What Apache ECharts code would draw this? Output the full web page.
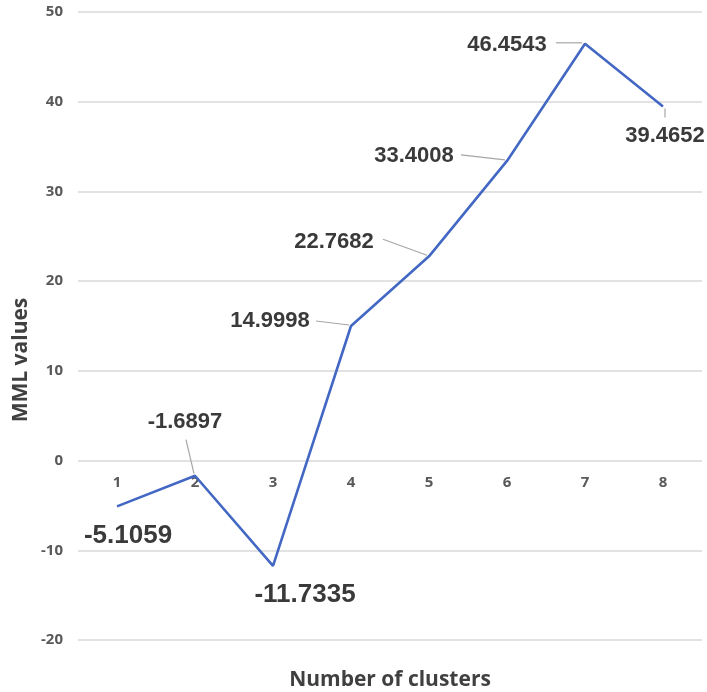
<!DOCTYPE html>
<html>
<head>
<meta charset="utf-8">
<script src="https://cdn.jsdelivr.net/npm/echarts@6/dist/echarts.min.js"></script>
<style>
  html, body { margin: 0; padding: 0; background: #fff; }
  #chart { width: 707px; height: 692px; }
</style>
</head>
<body>
<div id="chart"></div>
<script>
// Cluster counts and their MML scores
const clusters = ['1', '2', '3', '4', '5', '6', '7', '8'];
const mmlValues = [-5.1059, -1.6897, -11.7335, 14.9998, 22.7682, 33.4008, 46.4543, 39.4652];
const yTicks = { min: -20, max: 50, step: 10 };

// Where each value label sits relative to its point (px), and its size
const labelOffsets = [[11, 29], [-10, -54], [32, 29], [-81, -5], [-95, -14], [-93, -5], [-78, 1], [2, 29]];
const labelSizes = [26, 22, 26, 22, 22, 22, 22, 22];
// Leader line ends relative to the point (px); null = no leader
const leaders = [
  null,
  [[-9, -36], [-1, -2]],
  null,
  [[-35, -5], [-2, -1]],
  [[-46, -17], [-2, -1]],
  [[-46, -6], [-2, -1]],
  [[-29, -1], [-3, -1]],
  [[2, 2], [2, 11]]
];

const chart = echarts.init(document.getElementById('chart'), null, { renderer: 'canvas' });

const axisText = { color: '#595959', fontFamily: 'Open Sans', fontWeight: 'bold', fontSize: 15 };
const titleFont = 'bold 21px "Open Sans"';
const categoryLabelGap = 15; // gap between the zero line and the category labels

// Axis titles
const axisTitles = [
  {
    type: 'text',
    x: 390, y: 680,
    style: { text: 'Number of clusters', fill: '#404040', font: titleFont, align: 'center', verticalAlign: 'middle' }
  },
  {
    type: 'text',
    x: 21, y: 360,
    rotation: Math.PI / 2,
    style: { text: 'MML values', fill: '#404040', font: titleFont, align: 'center', verticalAlign: 'middle' }
  }
];

chart.setOption({
  animation: false,
  backgroundColor: '#ffffff',
  grid: { left: 78, right: 5, top: 12, bottom: 52 },
  xAxis: {
    type: 'category',
    data: clusters,
    boundaryGap: true,
    axisLine: { show: false, onZero: false },
    axisTick: { show: false },
    axisLabel: Object.assign({ margin: categoryLabelGap }, axisText),
    splitLine: { show: false }
  },
  yAxis: {
    type: 'value',
    min: yTicks.min,
    max: yTicks.max,
    interval: yTicks.step,
    axisLine: { show: false },
    axisTick: { show: false },
    axisLabel: Object.assign({ margin: 15 }, axisText),
    splitLine: { lineStyle: { color: '#d9d9d9', width: 1.5 } }
  },
  series: [{
    type: 'line',
    data: mmlValues.map((v, i) => ({
      value: v,
      label: {
        show: true,
        position: 'inside',
        offset: labelOffsets[i],
        fontSize: labelSizes[i]
      }
    })),
    symbol: 'circle',
    symbolSize: 0,
    lineStyle: { color: '#4368C4', width: 2.6 },
    itemStyle: { color: '#4368C4' },
    label: {
      show: true,
      color: '#3a3a3a',
      fontFamily: 'Liberation Sans',
      fontWeight: 'bold',
      align: 'center',
      verticalAlign: 'middle',
      formatter: p => p.value.toFixed(4)
    },
    z: 3
  }]
});

// Category labels sit just under the zero line rather than at the grid bottom
const zeroY = chart.convertToPixel({ yAxisIndex: 0 }, 0);
const bottomY = chart.convertToPixel({ yAxisIndex: 0 }, yTicks.min);

// Leader lines anchored on each point's pixel position
const leaderGraphics = [];
mmlValues.forEach((v, i) => {
  if (!leaders[i]) return;
  const p = chart.convertToPixel({ seriesIndex: 0 }, [i, v]);
  const [a, b] = leaders[i];
  leaderGraphics.push({
    type: 'line',
    z: 2,
    shape: { x1: p[0] + a[0], y1: p[1] + a[1], x2: p[0] + b[0], y2: p[1] + b[1] },
    style: { stroke: '#a6a6a6', lineWidth: 1.2 }
  });
});
chart.setOption({
  xAxis: { axisLabel: { margin: zeroY - bottomY + categoryLabelGap } },
  graphic: axisTitles.concat(leaderGraphics)
});
</script>
</body>
</html>
